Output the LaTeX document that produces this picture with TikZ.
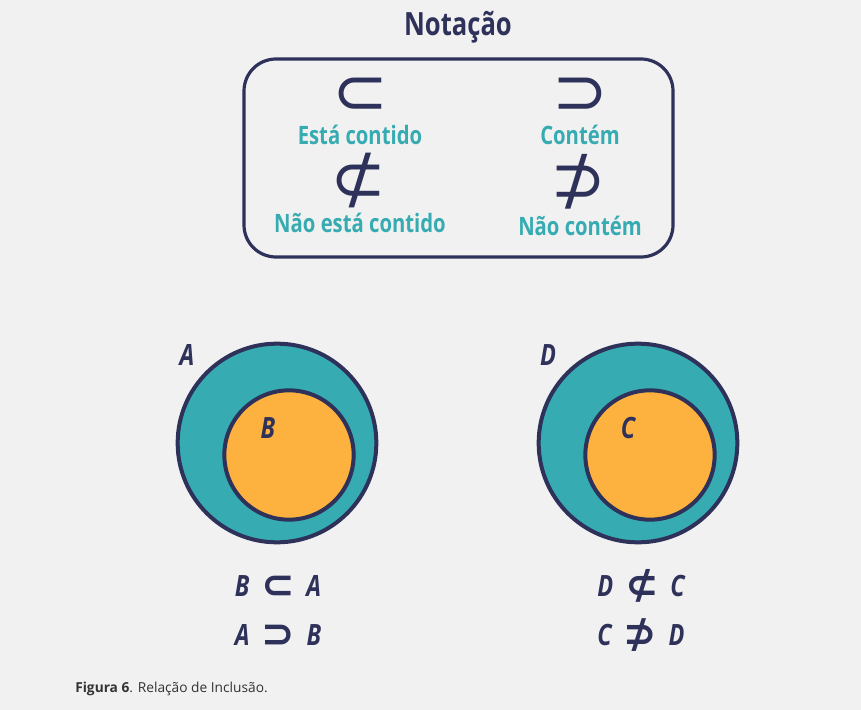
\documentclass[tikz,border=0pt]{standalone}
\usepackage{fontspec}
\setmainfont{Open Sans}
\newfontfamily\condfont[FakeStretch=0.8]{Open Sans}
\newfontfamily\symfont{DejaVu Sans}
\usetikzlibrary{positioning}
\definecolor{navy}{HTML}{2E3159}
\definecolor{setteal}{HTML}{36ACB2}
\definecolor{setorange}{HTML}{FDB13F}
\definecolor{bggray}{HTML}{F1F1F1}
\definecolor{capgray}{HTML}{333333}
\newcommand{\relsym}[1]{\hspace{0.4em}{\symfont\upshape\fontsize{30}{30}\selectfont\raisebox{-0.06em}{#1}}\hspace{0.4em}}

\begin{document}
\begin{tikzpicture}[
    x=0.75pt, y=-0.75pt,
    title/.style={font=\condfont\bfseries\fontsize{24}{28}\selectfont, text=navy, anchor=base},
    notelabel/.style={font=\condfont\bfseries\fontsize{19}{22}\selectfont, text=setteal, anchor=base},
    symbol/.style={font=\symfont\fontsize{50}{52}\selectfont, text=navy, inner sep=0pt},
    setname/.style={font=\condfont\bfseries\itshape\fontsize{22}{26}\selectfont, text=navy, anchor=base},
    relation/.style={setname},
    outerset/.style={circle, draw=navy, line width=3pt, fill=setteal, inner sep=0pt, minimum size=149pt},
    innerset/.style={circle, draw=navy, line width=3pt, fill=setorange, inner sep=0pt, minimum size=97pt},
    notebox/.style={draw=navy, line width=2.4pt, rounded corners=24pt}
]
    \fill [bggray] (0,0) rectangle (861,710);

    % notation
    \node [title] (ttl) at (458,36) {Notação};
    \draw [notebox] (244,59) rectangle (673,257);

    \node [symbol] (s1) at (360,96) {⊂};
    \node [notelabel] (l1) at (360,144) {Está contido};
    \node [symbol] (s2) at (580,96) {⊃};
    \node [notelabel] (l2) at (580,144) {Contém};
    \node [symbol] (s3) at (358,181) {⊄};
    \node [notelabel] (l3) at (360,232) {Não está contido};
    \node [symbol] (s4) at (578,182) {⊅};
    \node [notelabel] (l4) at (580,235) {Não contém};

    % sets
    \node [outerset] (setA) at (277,443) {};
    \node [innerset] (setB) at (289,455) {};
    \node [setname] (nA) at (187,365) {A};
    \node [setname] (nB) at (268,438) {B};

    \node [outerset] (setD) at (638,443) {};
    \node [innerset] (setC) at (650,455) {};
    \node [setname] (nD) at (548,365) {D};
    \node [setname] (nC) at (628,438) {C};

    % relations
    \node [relation] (r1) at (278,596) {B\relsym{⊂}A};
    \node [relation] (r2) at (278,645) {A\relsym{⊃}B};
    \node [relation] (r3) at (641,596) {D\relsym{⊄}C};
    \node [relation] (r4) at (641,645) {C\relsym{⊅}D};

    % caption
    \node [anchor=base west, text=capgray, font=\fontsize{10.3}{12}\selectfont, inner sep=0pt] (cap) at (75,692) {\textbf{Figura 6}. Relação de Inclusão.};
\end{tikzpicture}
\end{document}
